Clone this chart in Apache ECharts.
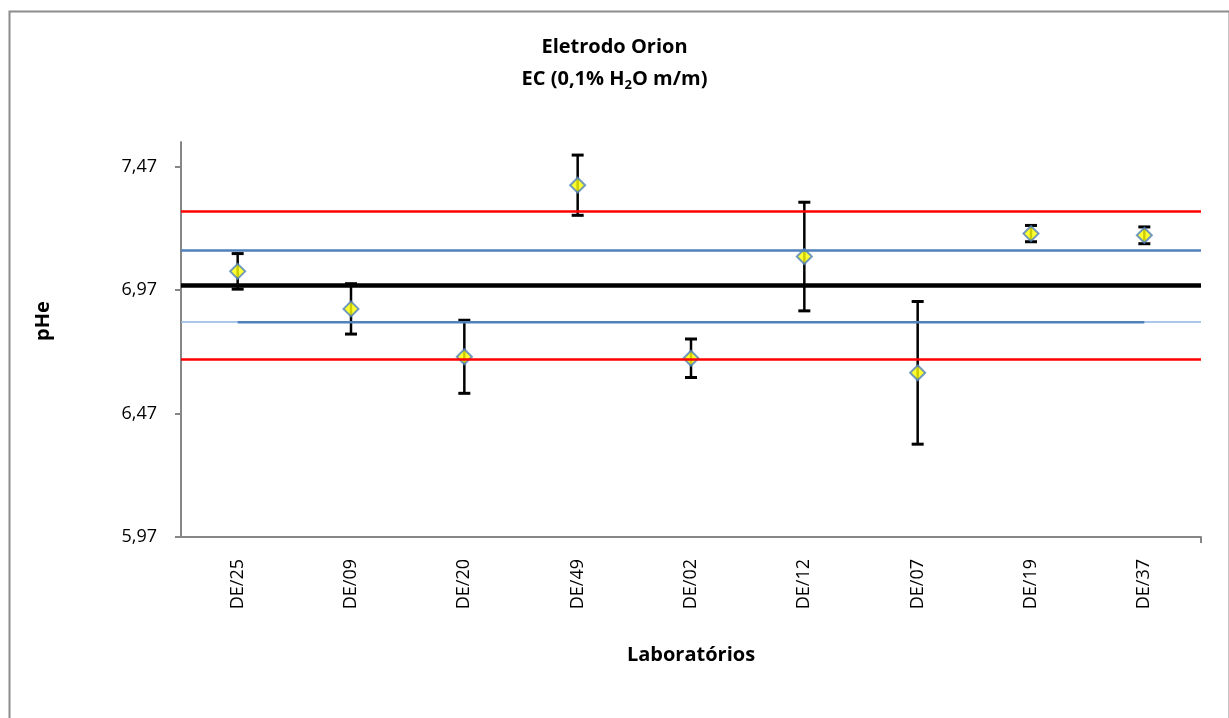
<!DOCTYPE html>
<html><head><meta charset="utf-8">
<script src="https://cdn.jsdelivr.net/npm/echarts@6/dist/echarts.min.js"></script>
<style>html,body{margin:0;padding:0;background:#fff}#c{width:1229px;height:718px}</style>
</head><body><div id="c"></div>
<script>
// Categories (laboratories)
const labs = ['DE/25', 'DE/09', 'DE/20', 'DE/49', 'DE/02', 'DE/12', 'DE/07', 'DE/19', 'DE/37'];
// Mean pHe per lab
const means = [7.046, 6.894, 6.700, 7.395, 6.694, 7.106, 6.635, 7.199, 7.192];
// Expanded uncertainty (error bar half-length)
const uncertainties = [0.072, 0.102, 0.148, 0.122, 0.078, 0.220, 0.289, 0.033, 0.034];
// Reference lines
const assignedValue = 6.985;
const warnLow = 6.840, warnHigh = 7.131;
const actionLow = 6.686, actionHigh = 7.286;
// Axis
const yTicks = [5.97, 6.47, 6.97, 7.47];
const yMin = 5.97, yMax = 7.57;

const F = '"Open Sans", Lato, sans-serif';
const chart = echarts.init(document.getElementById('c'), null, { renderer: 'canvas' });
const errData = labs.map((l, i) => [i, means[i] - uncertainties[i], means[i] + uncertainties[i]]);
const hLine = (v, color, width) => ({ yAxis: v, lineStyle: { color: color, width: width, type: 'solid' } });

const option = {
  animation: false,
  backgroundColor: '#fff',
  graphic: [{
    type: 'rect', left: 7, top: 9, silent: true,
    shape: { width: 1220, height: 730 },
    style: { fill: null, stroke: '#8c8c8c', lineWidth: 2 }
  }],
  title: {
    left: 'center', top: 31, padding: 0,
    text: '{b|Eletrodo Orion}\n{b|EC (0,1% H}{s|2}{b|O m/m)}',
    textStyle: {
      rich: {
        b: { fontFamily: F, fontSize: 20, fontWeight: 'bold', color: '#000', lineHeight: 32 },
        s: { fontFamily: F, fontSize: 13, fontWeight: 'bold', color: '#000', lineHeight: 32, padding: [12, 0, 0, 0] }
      }
    }
  },
  grid: { left: 181, right: 28, top: 142, bottom: 181, containLabel: false },
  xAxis: [{
    type: 'category', data: labs, boundaryGap: true,
    axisLine: { lineStyle: { color: '#868686', width: 2 } },
    axisTick: { alignWithLabel: true, length: 6, lineStyle: { color: '#868686', width: 2 } },
    axisLabel: { rotate: 90, margin: 22, fontFamily: F, fontSize: 18, color: '#000' },
    splitLine: { show: false },
    name: 'Laboratórios', nameLocation: 'middle', nameGap: 108,
    nameTextStyle: { fontFamily: F, fontSize: 20, fontWeight: 'bold', color: '#000' }
  }, {
    type: 'value', position: 'bottom', min: 0, max: labs.length,
    axisLine: { show: false },
    axisTick: { show: true, customValues: [labs.length], length: 6, lineStyle: { color: '#868686', width: 2 } },
    axisLabel: { show: false },
    splitLine: { show: false }
  }],
  yAxis: {
    type: 'value', min: yMin, max: yMax,
    axisLine: { show: true, lineStyle: { color: '#868686', width: 2 } },
    axisTick: { show: true, customValues: yTicks, length: 6, lineStyle: { color: '#868686', width: 2 } },
    axisLabel: { customValues: yTicks, margin: 24, fontFamily: F, fontSize: 18, color: '#000',
      formatter: v => v.toFixed(2).replace('.', ',') },
    splitLine: { show: false },
    name: 'pHe', nameLocation: 'middle', nameRotate: 90, nameGap: 128,
    nameTextStyle: { fontFamily: F, fontSize: 20, fontWeight: 'bold', color: '#000', padding: [0, 0, 0, 37] }
  },
  series: [
    {
      type: 'custom', z: 3,
      encode: { x: 0, y: [1, 2] },
      data: errData,
      renderItem: (params, api) => {
        const x = api.value(0);
        const lo = api.coord([x, api.value(1)]);
        const hi = api.coord([x, api.value(2)]);
        const w = 6;
        return {
          type: 'group', children: [
            { type: 'line', shape: { x1: lo[0], y1: lo[1], x2: hi[0], y2: hi[1] }, style: { stroke: '#000', lineWidth: 2.5 } },
            { type: 'line', shape: { x1: lo[0] - w, y1: lo[1], x2: lo[0] + w, y2: lo[1] }, style: { stroke: '#000', lineWidth: 3 } },
            { type: 'line', shape: { x1: hi[0] - w, y1: hi[1], x2: hi[0] + w, y2: hi[1] }, style: { stroke: '#000', lineWidth: 3 } }
          ]
        };
      }
    },
    {
      type: 'scatter', z: 4, data: means,
      symbol: 'diamond', symbolSize: [15, 15],
      itemStyle: { color: '#FFFF00', borderColor: '#4F81BD', borderWidth: 2 }
    },
    {
      type: 'line', z: 5, data: labs.map(() => warnLow),
      symbol: 'none', lineStyle: { color: '#4F81BD', width: 2.5 },
      markLine: {
        silent: true, symbol: 'none', label: { show: false },
        data: [
          hLine(actionHigh, '#FF0000', 2.5),
          hLine(warnHigh, '#4F81BD', 2.5),
          hLine(assignedValue, '#000000', 4.5),
          hLine(warnLow, '#8EB4E3', 1.5),
          hLine(actionLow, '#FF0000', 2.5)
        ]
      }
    }
  ]
};
chart.setOption(option);
</script></body></html>
